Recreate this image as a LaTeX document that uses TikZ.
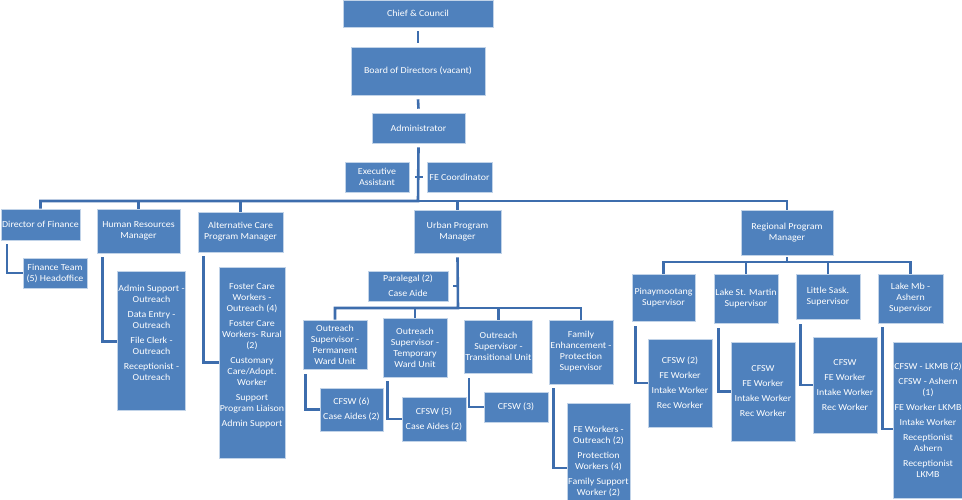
\documentclass[tikz,border=0pt]{standalone}
\usepackage{fontspec}
\setmainfont{Carlito}[FakeStretch=1.08]
\usetikzlibrary{shapes,arrows,calc,positioning}
\definecolor{boxblue}{HTML}{4F81BD}
\definecolor{linkblue}{HTML}{3D6DAD}
\tikzstyle{box} = [draw=white!65!boxblue, line width=0.6pt, fill=boxblue, rectangle, text=white, align=center, inner sep=1pt, font=\fontsize{9.2}{11}\selectfont]
\tikzstyle{line} = [draw, line width=2.6pt, color=linkblue]
\tikzset{sz/.style 2 args={minimum width=#1pt, minimum height=#2pt}}

\begin{document}
\begin{tikzpicture}[x=1pt, y=-1pt]
	\useasboundingbox (0,0) rectangle (962,500);
	% top of the chart
	\node [box, sz={150}{27}] (chief) at (418,13.5) {Chief \& Council};
	\node [box, sz={134}{48}] (board) at (418,71) {Board of Directors (vacant)};
	\node [box, sz={93}{30}] (admin) at (418.5,128) {Administrator};
	\node [box, sz={64}{30}] (ea) at (377,177) {Executive\\Assistant};
	\node [box, sz={65}{30}] (fec) at (459.5,177) {FE Coordinator};
	\coordinate (mainbus) at (418,201);

	% managers
	\node [box, sz={77}{31}] (fin) at (40.5,224.5) {Director of Finance};
	\node [box, sz={83}{44}] (hr) at (138.5,231) {Human Resources\\Manager};
	\node [box, sz={85}{40}] (acpm) at (240.5,232) {Alternative Care\\Program Manager};
	\node [box, sz={87}{43}] (urban) at (457.5,231.5) {Urban Program\\Manager};
	\node [box, sz={92}{45}] (regional) at (787,232.5) {Regional Program\\Manager};

	% staff under the managers
	\node [box, sz={64}{30}] (finteam) at (55,273) {Finance Team\\(5) Headoffice};
	\node [box, sz={63}{139}, text depth=16pt] (hrteam) at (151.5,340.5) {Admin Support -\\Outreach\\[4pt]Data Entry -\\Outreach\\[4pt]File Clerk -\\Outreach\\[4pt]Receptionist -\\Outreach};
	\node [box, sz={64}{191}, text depth=14pt] (acteam) at (252,362.5) {Foster Care\\Workers -\\Outreach (4)\\[4pt]Foster Care\\Workers- Rural\\(2)\\[4pt]Customary\\Care/Adopt.\\Worker\\[4pt]Support\\Program Liaison\\[4pt]Admin Support};

	% urban program
	\node [box, sz={80}{30}] (para) at (408,286) {Paralegal (2)\\[4pt]Case Aide};
	\coordinate (urbanbus) at (458,308);
	\node [box, sz={64}{49}] (pwu) at (335,344.5) {Outreach\\Supervisor -\\Permanent\\Ward Unit};
	\node [box, sz={64}{59}] (twu) at (415,347.5) {Outreach\\Supervisor -\\Temporary\\Ward Unit};
	\node [box, sz={63}{53}] (tu) at (498.5,346.5) {Outreach\\Supervisor -\\Transitional Unit};
	\node [box, sz={64}{64}] (fep) at (581,352) {Family\\Enhancement -\\Protection\\Supervisor};
	\node [box, sz={63}{43}] (pwuteam) at (351.5,409.5) {CFSW (6)\\[4pt]Case Aides (2)};
	\node [box, sz={64}{44}] (twuteam) at (434,419) {CFSW (5)\\[4pt]Case Aides (2)};
	\node [box, sz={64}{30}] (tuteam) at (516,407) {CFSW (3)};
	\node [box, sz={63}{116}] (fepteam) at (598.5,461) {FE Workers -\\Outreach (2)\\[4pt]Protection\\Workers (4)\\[4pt]Family Support\\Worker (2)};

	% regional program
	\coordinate (regbus) at (787,262);
	\node [box, sz={63}{47}] (pin) at (663.5,297.5) {Pinaymootang\\Supervisor};
	\node [box, sz={64}{49}] (lsm) at (746,298.5) {Lake St. Martin\\Supervisor};
	\node [box, sz={64}{45}] (lsk) at (828,296.5) {Little Sask.\\Supervisor};
	\node [box, sz={65}{49}] (lma) at (910.5,298.5) {Lake Mb -\\Ashern\\Supervisor};
	\node [box, sz={64}{88}] (pinteam) at (680,383) {CFSW (2)\\[4pt]FE Worker\\[4pt]Intake Worker\\[4pt]Rec Worker};
	\node [box, sz={64}{99}] (lsmteam) at (763,391.5) {CFSW\\[4pt]FE Worker\\[4pt]Intake Worker\\[4pt]Rec Worker};
	\node [box, sz={64}{96}] (lskteam) at (845,385) {CFSW\\[4pt]FE Worker\\[4pt]Intake Worker\\[4pt]Rec Worker};
	\node [box, sz={64}{156}] (lmateam) at (928,420) {CFSW - LKMB (2)\\[4pt]CFSW - Ashern\\(1)\\[4pt]FE Worker LKMB\\[4pt]Intake Worker\\[4pt]Receptionist\\Ashern\\[4pt]Receptionist\\LKMB};

	\path [line] ([yshift=-4pt]chief.south) -- ([yshift=4pt]board.north);
	\path [line] ([yshift=-4pt]board.south) -- ([yshift=4pt]admin.north);
	\path [line] ([xshift=6pt]ea.east) -- ([xshift=-4pt]fec.west);
	\path [line] ([yshift=-4pt]admin.south) -- (mainbus) -| (fin.north);
	\path [line] (mainbus) -| (hr.north);
	\path [line] (mainbus) -| (acpm.north);
	\path [line] (mainbus) -| (urban.north);
	\path [line] (mainbus) -| (regional.north);

	\path [line] ([xshift=6pt,yshift=-4pt]fin.south west) |- (finteam.west);
	\path [line] ([xshift=6pt,yshift=-4pt]hr.south west) |- ([yshift=-1pt]hrteam.west);
	\path [line] ([xshift=6pt,yshift=-4pt]acpm.south west) |- (acteam.west);

	\path [line] ([yshift=-4pt]urban.south) -- (urbanbus) -| (pwu.north);
	\path [line] ([xshift=5pt]para.east) -- (para.east -| urbanbus);
	\path [line] (urbanbus) -| (twu.north);
	\path [line] (urbanbus) -| (tu.north);
	\path [line] (urbanbus) -| (fep.north);
	\path [line] ([xshift=3pt,yshift=-5pt]pwu.south west) |- (pwuteam.west);
	\path [line] ([xshift=5pt,yshift=-4pt]twu.south west) |- (twuteam.west);
	\path [line] ([xshift=5pt,yshift=-5pt]tu.south west) |- (tuteam.west);
	\path [line] ([xshift=5pt,yshift=-4pt]fep.south west) |- ([yshift=-7pt]fepteam.west);

	\path [line] ([yshift=-2pt]regional.south) -- (regbus) -| (pin.north);
	\path [line] (regbus) -| (lsm.north);
	\path [line] (regbus) -| (lsk.north);
	\path [line] (regbus) -| (lma.north);
	\path [line] ([xshift=4pt,yshift=-5pt]pin.south west) |- (pinteam.west);
	\path [line] ([xshift=5pt,yshift=-5pt]lsm.south west) |- (lsmteam.west);
	\path [line] ([xshift=5pt,yshift=-5pt]lsk.south west) |- (lskteam.west);
	\path [line] ([xshift=5pt,yshift=-4pt]lma.south west) |- ([yshift=-9pt]lmateam.west);
\end{tikzpicture}
\end{document}
